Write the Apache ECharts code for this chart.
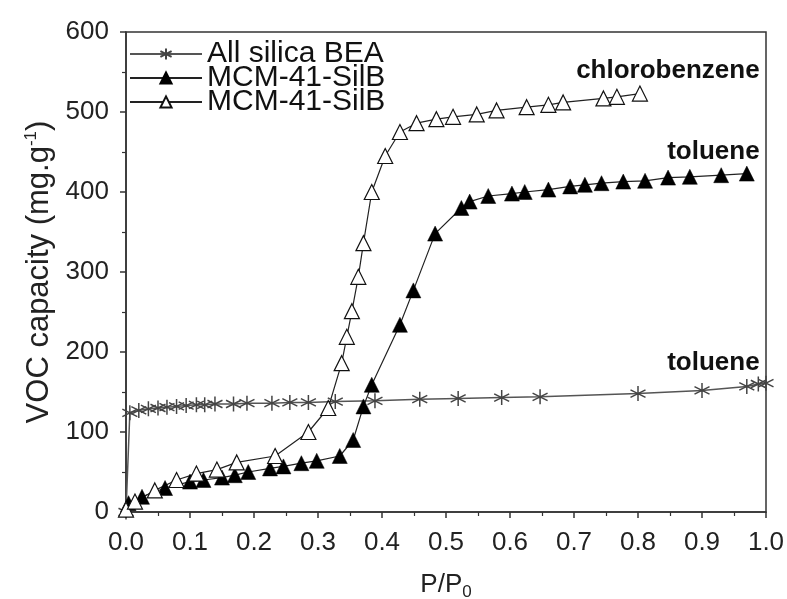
<!DOCTYPE html>
<html>
<head>
<meta charset="utf-8">
<script src="https://cdn.jsdelivr.net/npm/echarts@6/dist/echarts.min.js"></script>
<style>
html,body{margin:0;padding:0;background:#fff;}
#chart{width:787px;height:599px;}
</style>
</head>
<body>
<div id="chart"></div>
<script>
// ---- data ----
var beaX = [0, 0.006, 0.02, 0.035, 0.05, 0.064, 0.079, 0.094, 0.11, 0.123, 0.139, 0.168, 0.189, 0.228, 0.256, 0.285, 0.327, 0.389, 0.459, 0.519, 0.587, 0.647, 0.8, 0.9, 0.97, 0.988, 1.0];
var beaY = [0, 124, 127, 129, 130, 131, 132, 133, 134, 134, 135, 135, 136, 136, 137, 137, 138, 139, 141, 142, 143, 144, 148, 152, 157, 160, 161];

var tolX = [0.004, 0.025, 0.061, 0.1, 0.121, 0.15, 0.17, 0.191, 0.225, 0.246, 0.274, 0.298, 0.334, 0.355, 0.371, 0.384, 0.428, 0.449, 0.483, 0.524, 0.537, 0.566, 0.603, 0.623, 0.66, 0.694, 0.717, 0.743, 0.777, 0.811, 0.847, 0.881, 0.93, 0.97];
var tolY = [11, 19, 30, 38, 40, 43, 46, 50, 54.5, 57, 61, 64, 70, 90, 132, 159, 234, 277, 348, 380, 388, 395, 398, 400, 403, 407, 409, 411, 413, 414, 418, 419, 421, 423];

var clbX = [0.0, 0.014, 0.045, 0.079, 0.11, 0.142, 0.173, 0.233, 0.285, 0.316, 0.337, 0.345, 0.353, 0.363, 0.371, 0.384, 0.405, 0.428, 0.454, 0.485, 0.511, 0.548, 0.579, 0.626, 0.66, 0.683, 0.746, 0.767, 0.803];
var clbY = [3, 13, 27, 40, 48, 53, 62, 70, 100, 130, 186, 219, 251, 294, 336, 400, 445, 475, 486, 491, 494, 497, 502, 506, 509, 512, 517, 519, 523];

var seriesNames = ['All silica BEA', 'MCM-41-SilB', 'MCM-41-SilB '];
var xTicks = ['0.0','0.1','0.2','0.3','0.4','0.5','0.6','0.7','0.8','0.9','1.0'];
var annotations = [
  {text: 'chlorobenzene', x: 0.99, y: 552},
  {text: 'toluene', x: 0.99, y: 450},
  {text: 'toluene', x: 0.99, y: 186}
];

function zip(xs, ys){ return xs.map(function(x,i){ return [x, ys[i]]; }); }

var FONT = '"Liberation Sans", Arial, sans-serif';
var starPath = 'path://M0,-10 L0,10 M-8.66,-5 L8.66,5 M-8.66,5 L8.66,-5';

var chart = echarts.init(document.getElementById('chart'), null, {renderer:'canvas'});
var option = {
  animation: false,
  backgroundColor: '#fff',
  textStyle: {fontFamily: FONT},
  grid: {left: 126, right: 21, top: 32, bottom: 87, outerBoundsMode: 'none', containLabel: false,
    show: true, borderColor: '#333', borderWidth: 1.5, backgroundColor: 'transparent'},
  legend: {
    left: 124, top: 34, orient: 'vertical',
    itemWidth: 72, itemHeight: 14, itemGap: -6,
    data: seriesNames,
    textStyle: {fontSize: 30, color: '#111', fontFamily: FONT},
    formatter: function(n){ return n.trim(); }
  },
  xAxis: {
    type: 'value', min: 0, max: 1, interval: 0.1,
    name: '{a|P/P}{s|0}', nameLocation: 'middle', nameGap: 56,
    nameTextStyle: {rich: {a: {fontSize: 26, color: '#222', fontFamily: FONT}, s: {fontSize: 17, color: '#222', fontFamily: FONT, verticalAlign: 'bottom', padding: [16,0,0,0]}}},
    axisLine: {show: true, lineStyle: {color: '#333', width: 1.5}},
    axisTick: {show: true, inside: false, length: 6, lineStyle: {color: '#333', width: 1.5}},
    minorTick: {show: true, splitNumber: 2, length: 4, lineStyle: {color: '#333', width: 1.2}},
    splitLine: {show: false},
    axisLabel: {fontSize: 26, color: '#222', margin: 18, fontFamily: FONT,
      formatter: function(v){ return xTicks[Math.round(v*10)]; }}
  },
  yAxis: {
    type: 'value', min: 0, max: 600, interval: 100,
    name: '{a|VOC capacity (mg.g}{s|-1}{a|)}', nameLocation: 'middle', nameGap: 70, nameRotate: 90,
    nameTextStyle: {rich: {a: {fontSize: 31, color: '#222', fontFamily: FONT}, s: {fontSize: 17, color: '#222', fontFamily: FONT, verticalAlign: 'top', padding: [0,0,16,0]}}},
    axisLine: {show: true, lineStyle: {color: '#333', width: 1.5}},
    axisTick: {show: true, inside: false, length: 6, lineStyle: {color: '#333', width: 1.5}},
    minorTick: {show: true, splitNumber: 2, length: 4, lineStyle: {color: '#333', width: 1.2}},
    splitLine: {show: false},
    axisLabel: {fontSize: 26, color: '#222', margin: 17, fontFamily: FONT}
  },
  series: [
    {
      name: seriesNames[0], type: 'line', data: zip(beaX, beaY),
      symbol: starPath, symbolSize: 15, showAllSymbol: true,
      lineStyle: {color: '#555', width: 1.5},
      itemStyle: {color: '#444', borderColor: '#444', borderWidth: 1.5}
    },
    {
      name: seriesNames[1], type: 'line', data: zip(tolX, tolY),
      symbol: 'triangle', symbolSize: 15, showAllSymbol: true,
      lineStyle: {color: '#222', width: 1.2},
      itemStyle: {color: '#000', borderColor: '#000', borderWidth: 0.5}
    },
    {
      name: seriesNames[2], type: 'line', data: zip(clbX, clbY),
      symbol: 'triangle', symbolSize: 15, showAllSymbol: true,
      lineStyle: {color: '#222', width: 1.2},
      itemStyle: {color: '#fff', borderColor: '#111', borderWidth: 1.2}
    }
  ]
};
chart.setOption(option);

var g = annotations.map(function(a){
  var p = chart.convertToPixel({gridIndex: 0}, [a.x, a.y]);
  return {type: 'text', x: p[0], y: p[1], z: 100,
    style: {text: a.text, fill: '#111', font: 'bold 26px ' + FONT, textAlign: 'right', textVerticalAlign: 'middle'}};
});
chart.setOption({graphic: g});
</script>
</body>
</html>
